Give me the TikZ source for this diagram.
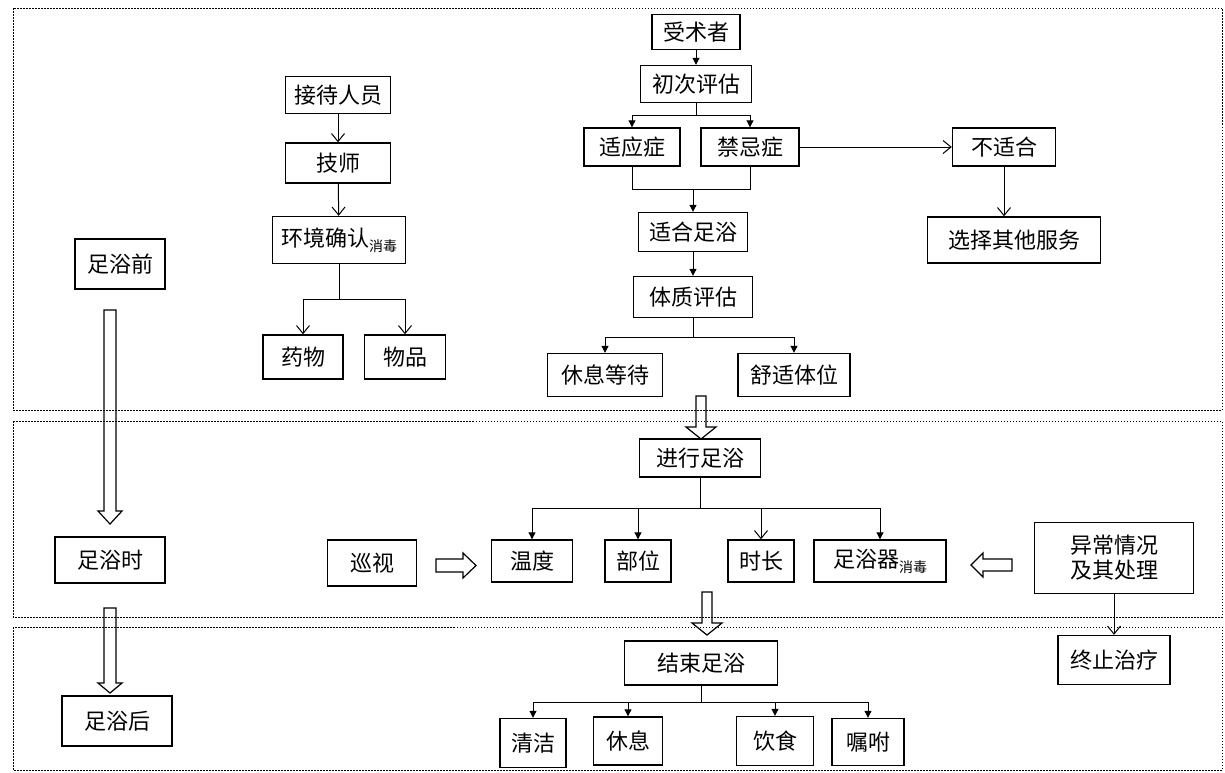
\documentclass[tikz,border=0pt]{standalone}
\usepackage{fontspec}
\setmainfont{Noto Sans CJK SC}
\usetikzlibrary{arrows.meta}
\newcommand{\smallsub}[1]{\raisebox{-5pt}{\fontsize{14}{14}\selectfont #1}}

\begin{document}
\begin{tikzpicture}[x=1pt,y=-1pt,line width=1pt,
    filled/.style={-{Triangle[length=7pt,width=7pt]}},
    open/.style={-{Straight Barb[length=8pt,width=13pt]}},
    flow node/.style={draw,line width=1.4pt,inner sep=1pt,align=center,font=\fontsize{22}{25}\selectfont},
    stage frame/.style={draw,line width=1pt,dash pattern=on 1.5pt off 1.5pt},
    hollow/.style={draw,line width=1.2pt}]

            \useasboundingbox (0,0) rectangle (1225,772);

            % stage frames
            \draw[stage frame] (13,8) rectangle (1222,410);
            \draw[stage frame] (13,421) rectangle (1222,617);
            \draw[stage frame] (13,627) rectangle (1222,770);

            % left column
            \node[flow node, minimum width=90pt, minimum height=50pt] (qian) at (120,264) {足浴前};
            \node[flow node, minimum width=110pt, minimum height=46pt] (shi) at (110,560) {足浴时};
            \node[flow node, minimum width=110pt, minimum height=50pt] (hou) at (117,721) {足浴后};

            % before
            \node[flow node, minimum width=105pt, minimum height=37pt] (jiedai) at (338,95) {接待人员};
            \node[flow node, minimum width=105pt, minimum height=40pt] (jishi) at (338,163) {技师};
            \node[flow node, minimum width=133pt, minimum height=47pt] (huanjing) at (339,240) {环境确认\smallsub{消毒}};
            \node[flow node, minimum width=80pt, minimum height=44pt] (yaowu) at (303,357) {药物};
            \node[flow node, minimum width=81pt, minimum height=44pt] (wupin) at (405,357) {物品};

            \node[flow node, minimum width=88pt, minimum height=35pt] (shou) at (696,32) {受术者};
            \node[flow node, minimum width=111pt, minimum height=37pt] (chuci) at (696,84) {初次评估};
            \node[flow node, minimum width=96pt, minimum height=38pt] (shiying) at (632,147) {适应症};
            \node[flow node, minimum width=98pt, minimum height=38pt] (jinji) at (750,147) {禁忌症};
            \node[flow node, minimum width=103pt, minimum height=38pt] (buhe) at (1004,147) {不适合};
            \node[flow node, minimum width=173pt, minimum height=46pt] (qita) at (1014,240) {选择其他服务};
            \node[flow node, minimum width=109pt, minimum height=39pt] (heshi) at (693,232) {适合足浴};
            \node[flow node, minimum width=119pt, minimum height=41pt] (tizhi) at (693,297) {体质评估};
            \node[flow node, minimum width=115pt, minimum height=43pt] (xiuxi) at (605,375) {休息等待};
            \node[flow node, minimum width=112pt, minimum height=43pt] (shushi) at (794,375) {舒适体位};

            % during
            \node[flow node, minimum width=121pt, minimum height=38pt] (jinxing) at (700,458) {进行足浴};
            \node[flow node, minimum width=89pt, minimum height=46pt] (xunshi) at (372,563) {巡视};
            \node[flow node, minimum width=81pt, minimum height=42pt] (wendu) at (532,561) {温度};
            \node[flow node, minimum width=66pt, minimum height=42pt] (buwei) at (638,561) {部位};
            \node[flow node, minimum width=66pt, minimum height=42pt] (shichang) at (761,561) {时长};
            \node[flow node, minimum width=132pt, minimum height=42pt] (zuyuqi) at (880,561) {足浴器\smallsub{消毒}};
            \node[flow node, minimum width=159pt, minimum height=71pt] (yichang) at (1114,558) {异常情况\\及其处理};
            \node[flow node, minimum width=112pt, minimum height=49pt] (zhongzhi) at (1114,660) {终止治疗};

            % after
            \node[flow node, minimum width=153pt, minimum height=44pt] (jieshu) at (701,663) {结束足浴};
            \node[flow node, minimum width=66pt, minimum height=49pt] (qingjie) at (533,743) {清洁};
            \node[flow node, minimum width=69pt, minimum height=48pt] (xiuxi2) at (628,741) {休息};
            \node[flow node, minimum width=77pt, minimum height=49pt] (yinshi) at (775,741) {饮食};
            \node[flow node, minimum width=72pt, minimum height=47pt] (zhufu) at (868,742) {嘱咐};

            % hollow arrows
            \foreach \cx/\ya/\yb/\yc/\sw/\hw in {110/310/511/524/6/12, 110/608/683/693/6/12, 701/396/427/439/5/15, 707/592/623/635/5/15}
                \draw[hollow] (\cx-\sw,\ya) -- (\cx+\sw,\ya) -- (\cx+\sw,\yb) -- (\cx+\hw,\yb) -- (\cx,\yc) -- (\cx-\hw,\yb) -- (\cx-\sw,\yb) -- cycle;
            \draw[hollow] (436,559) -- (463,559) -- (463,553) -- (476,565.5) -- (463,578) -- (463,572) -- (436,572) -- cycle;
            \draw[hollow] (1012,559) -- (983,559) -- (983,553) -- (971,565) -- (983,577) -- (983,571) -- (1012,571) -- cycle;

            % connectors
            \draw[open] (jiedai) to (jishi);
            \draw[open] (jishi) to (huanjing);
            \draw (huanjing.south) -- ++(0,35) coordinate (c4);
            \draw[open] (c4) -| (yaowu);
            \draw[open] (c4) -| (wupin);

            \draw[filled] (shou) to (chuci);
            \draw (chuci.south) -- ++(0,12) coordinate (c1);
            \draw[filled] (c1) -| (shiying);
            \draw[filled] (c1) -| (jinji);
            \draw[open] (jinji) to (buhe);
            \draw[open] (buhe.south) -- (buhe.south |- qita.north);
            \draw (shiying.south) -- ++(0,23) coordinate (c2) -| (jinji.south);
            \draw[filled] (c2 -| heshi) -- (heshi);
            \draw[filled] (heshi) to (tizhi);
            \draw (tizhi.south) -- ++(0,19) coordinate (c3);
            \draw[filled] (c3) -| (xiuxi);
            \draw[filled] (c3) -| (shushi);

            \draw (jinxing.south) -- ++(0,31) coordinate (c5);
            \draw[filled] (c5) -| (wendu);
            \draw[filled] (c5) -| (buwei);
            \draw[open] (c5) -| (shichang);
            \draw[filled] (c5) -| (zuyuqi);
            \draw[open] (yichang) to (zhongzhi);

            \draw (jieshu.south) -- ++(0,17) coordinate (c6);
            \draw[filled] (c6) -| (qingjie);
            \draw[filled] (c6) -| (xiuxi2);
            \draw[filled] (c6) -| (yinshi);
            \draw[filled] (c6) -| (zhufu);

        \end{tikzpicture}
\end{document}
